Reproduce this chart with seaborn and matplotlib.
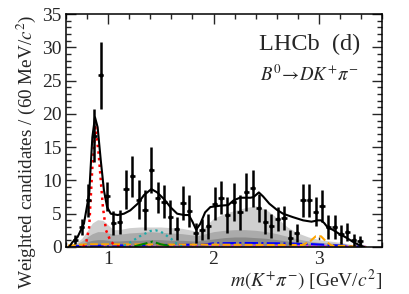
import matplotlib
matplotlib.use("Agg")
import matplotlib.pyplot as plt
import seaborn as sns
import pandas as pd
from matplotlib.ticker import MultipleLocator

# ---- data points (bin centres, weighted yields, errors) ----
bin_x = [0.69, 0.75, 0.81, 0.87, 0.93, 0.99, 1.05, 1.11, 1.17, 1.23, 1.29, 1.35,
         1.41, 1.47, 1.53, 1.59, 1.65, 1.71, 1.77, 1.83, 1.89, 1.95, 2.01, 2.07,
         2.13, 2.19, 2.25, 2.31, 2.37, 2.43, 2.49, 2.55, 2.61, 2.67, 2.73, 2.79,
         2.85, 2.91, 2.97, 3.03, 3.09, 3.15, 3.21, 3.27, 3.33, 3.39]
bin_y = [1.1, 3.0, 7.0, 16.7, 25.8, 7.6, 3.6, 3.75, 8.65, 10.6, 7.1, 5.5,
         11.6, 7.4, 6.8, 4.5, 2.75, 6.6, 5.4, 2.1, 2.6, 3.1, 6.5, 7.4,
         4.8, 6.75, 5.2, 8.25, 8.8, 5.8, 3.8, 3.2, 4.15, 4.4, 1.4, 2.1,
         7.0, 7.0, 5.3, 6.1, 3.0, 3.0, 1.9, 2.25, 1.1, 0.9]
bin_err = [0.7, 1.2, 2.5, 4.0, 5.0, 2.2, 1.8, 1.8, 2.9, 3.1, 2.9, 3.0,
           3.5, 2.3, 2.5, 2.5, 1.7, 2.5, 2.4, 1.5, 1.6, 1.9, 2.5, 2.5,
           2.7, 2.8, 2.6, 2.8, 2.8, 2.1, 1.9, 1.8, 1.8, 1.8, 1.1, 1.3,
           2.5, 2.5, 2.2, 2.4, 1.8, 1.8, 1.4, 1.4, 0.9, 0.8]

# ---- total fit ----
fit_x = [0.63, 0.66, 0.71, 0.77, 0.82, 0.85, 0.875, 0.90, 0.93, 0.96, 0.99, 1.025,
         1.09, 1.15, 1.21, 1.28, 1.34, 1.41, 1.465, 1.53, 1.59, 1.655, 1.72, 1.765,
         1.80, 1.835, 1.875, 1.92, 1.97, 2.06, 2.14, 2.19, 2.25, 2.35, 2.38, 2.43,
         2.47, 2.53, 2.60, 2.66, 2.75, 2.85, 2.93, 2.99, 3.02, 3.05, 3.085, 3.13,
         3.19, 3.26, 3.32, 3.38, 3.43]
fit_y = [0.0, 0.7, 1.5, 3.5, 8.0, 16.5, 19.5, 18.0, 13.0, 8.5, 6.0, 5.0,
         4.8, 5.0, 5.5, 6.5, 7.8, 8.7, 8.2, 7.2, 6.0, 5.0, 4.8, 4.8,
         3.8, 2.6, 3.5, 5.2, 6.0, 6.2, 6.3, 7.0, 7.4, 7.4, 7.5, 8.2,
         7.6, 6.5, 5.6, 5.0, 4.5, 4.0, 3.8, 4.0, 4.0, 3.6, 2.9, 2.6,
         2.0, 1.4, 0.8, 0.3, 0.0]

# ---- K*(892) component ----
kst_x = [0.76, 0.79, 0.82, 0.85, 0.88, 0.91, 0.95, 0.98, 1.025, 1.07, 1.12]
kst_y = [0.0, 0.5, 3.0, 12.0, 18.0, 14.0, 6.0, 2.5, 0.8, 0.2, 0.0]

# ---- stacked grey backgrounds ----
band_x = [0.62, 0.66, 0.70, 0.75, 0.80, 0.85, 0.90, 0.95, 1.00, 1.05, 1.10, 1.20,
          1.30, 1.40, 1.50, 1.60, 1.70, 1.80, 1.85, 1.90, 2.00, 2.10, 2.20, 2.30,
          2.40, 2.50, 2.60, 2.70, 2.80, 2.90, 3.00, 3.10, 3.20, 3.30, 3.40, 3.45]
band_light = [0, 0.3, 0.7, 1.3, 2.4, 3.6, 4.1, 4.0, 3.3, 2.6, 2.6, 2.9,
              3.0, 3.0, 3.0, 2.9, 2.8, 2.5, 2.3, 2.8, 4.3, 5.0, 5.5, 5.9,
              6.2, 5.6, 4.4, 3.0, 2.1, 1.5, 1.1, 0.9, 0.7, 0.4, 0.15, 0]
band_mid = [0, 0.2, 0.5, 0.9, 1.5, 2.0, 2.3, 2.3, 2.1, 1.9, 1.9, 2.1,
            2.2, 2.3, 2.2, 2.1, 2.0, 1.8, 1.7, 1.9, 2.3, 2.5, 2.6, 2.6,
            2.5, 2.3, 2.0, 1.6, 1.2, 0.9, 0.7, 0.6, 0.5, 0.3, 0.1, 0]
band_dark = [0, 0.1, 0.3, 0.5, 0.8, 1.0, 1.1, 1.1, 1.0, 0.9, 0.9, 1.0,
             1.0, 1.1, 1.1, 1.0, 1.0, 0.9, 0.9, 1.0, 1.2, 1.4, 1.5, 1.5,
             1.4, 1.3, 1.1, 0.9, 0.7, 0.5, 0.4, 0.35, 0.3, 0.2, 0.05, 0]

# ---- small components ----
orange_x = [0.62, 0.80, 1.00, 1.50, 2.00, 2.50, 2.85, 2.92, 2.97, 3.02, 3.07, 3.12, 3.30, 3.45]
orange_y = [0.2, 0.4, 0.4, 0.35, 0.35, 0.3, 0.3, 0.9, 1.6, 1.6, 0.8, 0.2, 0.1, 0.0]
blue_x = [0.62, 1.00, 1.50, 1.90, 2.00, 2.30, 2.60, 2.90, 3.10, 3.45]
blue_y = [0.1, 0.2, 0.3, 0.35, 0.55, 0.6, 0.55, 0.45, 0.3, 0.0]
cyan_x = [1.15, 1.20, 1.30, 1.40, 1.45, 1.50, 1.60, 1.65, 1.70]
cyan_y = [0.2, 0.6, 1.6, 2.4, 2.5, 2.3, 1.2, 0.5, 0.1]
green_x = [1.25, 1.35, 1.42, 1.50, 1.60]
green_y = [0.1, 0.5, 0.8, 0.4, 0.1]
magenta_x = [0.62, 1.0, 2.0, 3.0, 3.45]
magenta_y = [0.15, 0.15, 0.15, 0.15, 0.05]

sns.set_theme(style="ticks")
plt.rcParams["font.family"] = ["Liberation Serif", "DejaVu Serif"]
plt.rcParams["mathtext.fontset"] = "stix"
plt.rcParams["xtick.direction"] = "in"
plt.rcParams["ytick.direction"] = "in"

fig = plt.figure(figsize=(4.10, 2.94), dpi=100)
ax = fig.add_axes([0.161, 0.160, 0.771, 0.792])

bands = pd.DataFrame({"x": band_x, "light": band_light, "mid": band_mid, "dark": band_dark})
ax.fill_between(bands["x"], 0, bands["light"], color="#cfcfcf", lw=0)
ax.fill_between(bands["x"], 0, bands["mid"], color="#ababab", lw=0)
ax.fill_between(bands["x"], 0, bands["dark"], color="#8a8a8a", lw=0)

sns.lineplot(x=magenta_x, y=magenta_y, ax=ax, color="#ff00ff", lw=1.2, linestyle=":", estimator=None, sort=False)
sns.lineplot(x=blue_x, y=blue_y, ax=ax, color="#0000ff", lw=1.5, linestyle="-.", estimator=None, sort=False)
sns.lineplot(x=orange_x, y=orange_y, ax=ax, color="#ffa500", lw=1.5, linestyle="--", estimator=None, sort=False)
sns.lineplot(x=green_x, y=green_y, ax=ax, color="#008000", lw=1.5, linestyle="-.", estimator=None, sort=False)
sns.lineplot(x=cyan_x, y=cyan_y, ax=ax, color="#20a8a8", lw=1.6, linestyle=":", estimator=None, sort=False)
sns.lineplot(x=kst_x, y=kst_y, ax=ax, color="#ff0000", lw=1.8, linestyle=":", estimator=None, sort=False)
sns.lineplot(x=fit_x, y=fit_y, ax=ax, color="black", lw=1.5, estimator=None, sort=False)

ax.errorbar(bin_x, bin_y, yerr=bin_err, xerr=0.025, fmt="o", ms=2, color="black",
            ecolor="black", elinewidth=1.8, capsize=0, zorder=10)

ax.set_xlim(0.6, 3.6)
ax.set_ylim(0, 35)
ax.xaxis.set_major_locator(MultipleLocator(1))
ax.xaxis.set_minor_locator(MultipleLocator(0.2))
ax.yaxis.set_major_locator(MultipleLocator(5))
ax.yaxis.set_minor_locator(MultipleLocator(1))
ax.tick_params(which="both", top=True, right=True, direction="in", labelsize=14, width=1.0)
ax.tick_params(which="major", length=7, pad=3)
ax.tick_params(which="minor", length=3.5)
for s in ax.spines.values():
    s.set_linewidth(1.1)
    s.set_color("black")

ax.set_xlabel(r"$m(K^{+}\pi^{-})$ [GeV/$c^{2}$]", fontsize=14, loc="right", labelpad=0)
ax.set_ylabel(r"Weighted candidates / (60 MeV/$c^{2}$)", fontsize=13.8, loc="top", labelpad=3)

ax.text(0.93, 0.87, "LHCb  (d)", transform=ax.transAxes, ha="right", va="center", fontsize=17.5)
ax.text(0.925, 0.74, r"$B^{0}\!\rightarrow\! DK^{+}\pi^{-}$", transform=ax.transAxes,
        ha="right", va="center", fontsize=13.5)

fig.savefig("out.png", dpi=100)
